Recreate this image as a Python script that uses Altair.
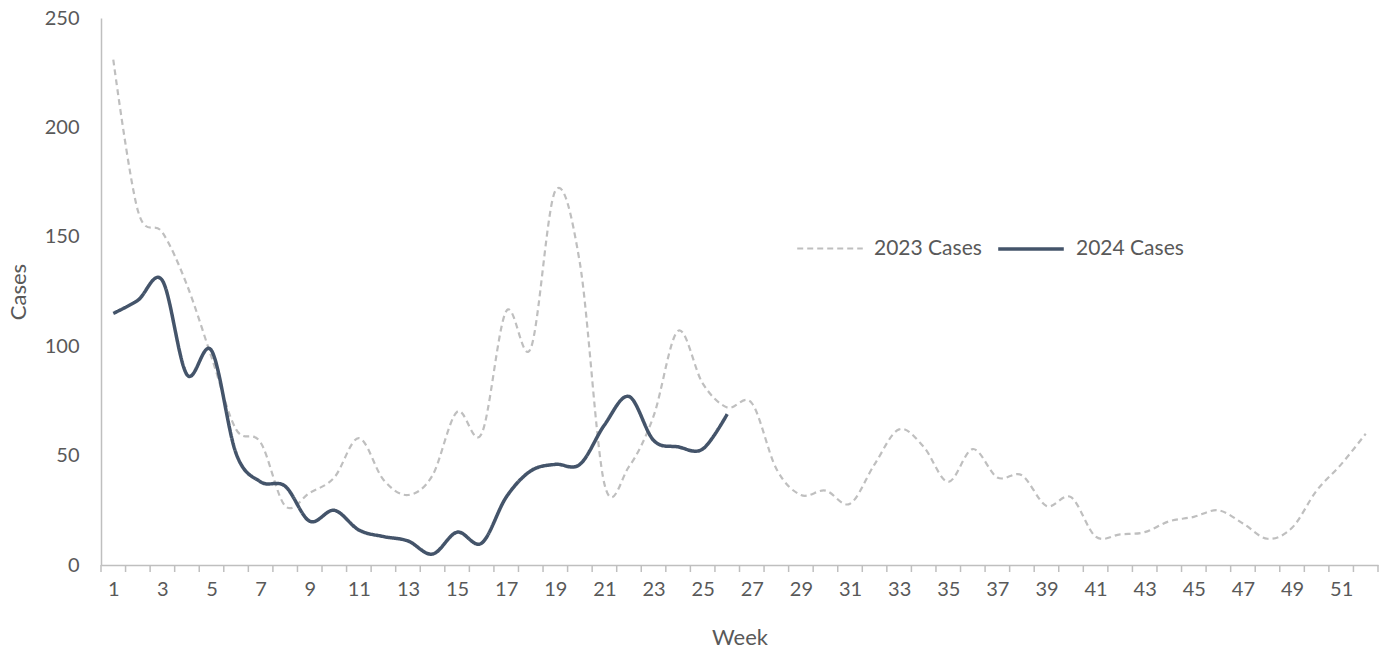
import altair as alt
import pandas as pd

weeks_2023 = list(range(1, 53))
cases_2023 = [231, 162, 152, 128, 95, 62, 56, 27, 33, 40,
              58, 39, 32, 41, 70, 60, 116, 99, 171, 138,
              37, 45, 68, 107, 83, 72, 74, 44, 32, 34,
              28, 46, 62, 54, 38, 53, 40, 41, 27, 31,
              13, 14, 15, 20, 22, 25, 19, 12, 17, 34,
              46, 60]

weeks_2024 = list(range(1, 27))
cases_2024 = [115, 121, 130, 87, 98, 51, 38, 36, 20, 25,
              16, 13, 11, 5, 15, 10, 31, 43, 46, 46,
              64, 77, 57, 54, 53, 69]

series_names = ["2023 Cases", "2024 Cases"]
x_label_values = list(range(1, 53, 2))
x_tick_positions = [w - 0.5 for w in range(1, 54)]

rows = []
for w, c in zip(weeks_2023, cases_2023):
    rows.append({"Week": w, "Cases": c, "Series": series_names[0]})
for w, c in zip(weeks_2024, cases_2024):
    rows.append({"Week": w, "Cases": c, "Series": series_names[1]})
df = pd.DataFrame(rows)
ticks_df = pd.DataFrame({"pos": x_tick_positions})

W, H = 1277, 547
FONT = "Lato"
TXT = "#595959"
AXIS_COL = "#BFBFBF"

x_scale = alt.Scale(domain=[0.5, 52.5], nice=False, zero=False)


def legend():
    return alt.Legend(title=None, orient="none", legendX=695, legendY=196,
                      direction="horizontal", symbolType="stroke",
                      symbolSize=4300, labelFont=FONT, labelFontSize=21,
                      labelColor=TXT, columnPadding=9, labelOffset=10,
                      symbolStrokeWidth=3)


lines = alt.Chart(df).mark_line(interpolate="cardinal").encode(
    x=alt.X("Week:Q", scale=x_scale,
            axis=alt.Axis(values=x_label_values, ticks=False, grid=False,
                          domainColor=AXIS_COL, domainWidth=1.5,
                          labelFont=FONT, labelFontSize=20, labelColor=TXT,
                          labelPadding=14, title="Week", titleFont=FONT,
                          titleFontSize=22, titleColor=TXT, titleFontWeight="normal",
                          titleX=W / 2, titleY=72, titleBaseline="middle",
                          labelFlush=False)),
    y=alt.Y("Cases:Q", scale=alt.Scale(domain=[0, 250], nice=False),
            axis=alt.Axis(values=[0, 50, 100, 150, 200, 250], ticks=False, grid=False,
                          domainColor=AXIS_COL, domainWidth=1.5,
                          labelFont=FONT, labelFontSize=20, labelColor=TXT,
                          labelPadding=22, title="Cases", titleFont=FONT,
                          titleFontSize=22, titleColor=TXT, titleFontWeight="normal",
                          titleX=-83, titleY=H / 2, titleBaseline="middle",
                          titleAngle=-90, titleAlign="center")),
    color=alt.Color("Series:N",
                    scale=alt.Scale(domain=series_names, range=["#BFBFBF", "#44546A"]),
                    legend=legend()),
    strokeDash=alt.StrokeDash("Series:N",
                              scale=alt.Scale(domain=series_names, range=[[6, 4], [1, 0]]),
                              legend=legend()),
    strokeWidth=alt.StrokeWidth("Series:N",
                                scale=alt.Scale(domain=series_names, range=[2.2, 3.5]),
                                legend=legend()),
)

ticks = alt.Chart(ticks_df).mark_rule(color=AXIS_COL, strokeWidth=1.5).encode(
    x=alt.X("pos:Q", scale=x_scale),
    y=alt.value(H),
    y2=alt.value(H + 7),
)

chart = alt.layer(ticks, lines).properties(
    width=W, height=H,
    background="white",
    autosize=alt.AutoSizeParams(type="none"),
    padding={"left": 101, "top": 18, "right": 10, "bottom": 84},
).configure_view(stroke=None)

chart.save("out.html", embed_options={"renderer": "svg", "actions": False})
